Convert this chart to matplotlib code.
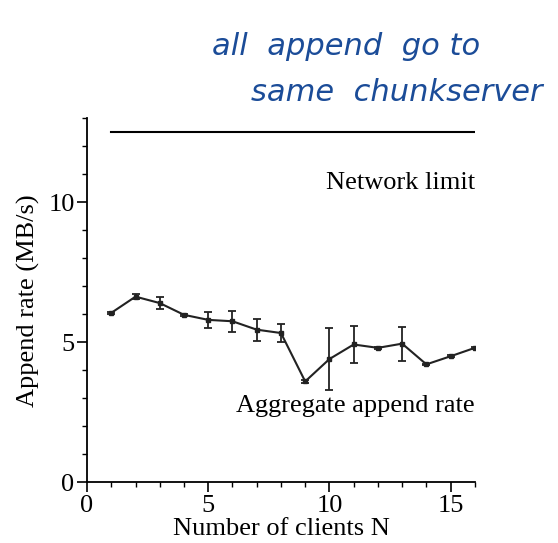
import matplotlib.pyplot as plt
from matplotlib.ticker import MultipleLocator

# Record append throughput vs. number of clients
clients = [1, 2, 3, 4, 5, 6, 7, 8, 9, 10, 11, 12, 13, 14, 15, 16]
append_rate = [6.05, 6.63, 6.40, 5.98, 5.80, 5.75, 5.45, 5.33, 3.60, 4.40,
               4.92, 4.80, 4.95, 4.21, 4.50, 4.80]
append_err = [0.04, 0.08, 0.20, 0.03, 0.28, 0.38, 0.39, 0.31, 0.04, 1.11,
              0.65, 0.04, 0.61, 0.03, 0.04, 0.03]
network_limit = 12.5

plt.rcParams['font.family'] = ['Liberation Serif', 'DejaVu Serif']
FS = 19

fig = plt.figure(figsize=(5.58, 5.43), dpi=100)
ax = fig.add_axes([0.156, 0.112, 0.695, 0.670])

ax.plot([clients[0], clients[-1]], [network_limit, network_limit],
        color='black', lw=1.5)
ax.errorbar(clients, append_rate, yerr=append_err, color='#222222', lw=1.5,
            elinewidth=1.3, capsize=3, capthick=1.3,
            marker='s', markersize=2.5)

ax.text(16, 10.7, 'Network limit', ha='right', va='center', fontsize=FS)
ax.text(16, 2.73, 'Aggregate append rate', ha='right', va='center', fontsize=FS)

ax.set_xlim(0, 16)
ax.set_ylim(0, 13)
ax.xaxis.set_major_locator(MultipleLocator(5))
ax.xaxis.set_minor_locator(MultipleLocator(1))
ax.yaxis.set_major_locator(MultipleLocator(5))
ax.yaxis.set_minor_locator(MultipleLocator(1))
ax.tick_params(which='major', length=7, width=1.2, labelsize=FS, direction='out', pad=2)
ax.tick_params(which='minor', length=3.6, width=1.0, direction='out')
for side in ['top', 'right']:
    ax.spines[side].set_visible(False)
for side in ['left', 'bottom']:
    ax.spines[side].set_linewidth(1.3)

ax.set_xlabel('Number of clients N', fontsize=FS, labelpad=1)
ax.set_ylabel('Append rate (MB/s)', fontsize=FS, labelpad=6)

# handwritten note above the plot
note = dict(color='#1b4c98', fontsize=22, style='italic',
            family=['DejaVu Sans'], ha='left', va='center')
fig.text(0.38, 0.915, 'all  append  go to', **note)
fig.text(0.45, 0.83, 'same  chunkserver', **note)

fig.savefig('out.png', dpi=100)
